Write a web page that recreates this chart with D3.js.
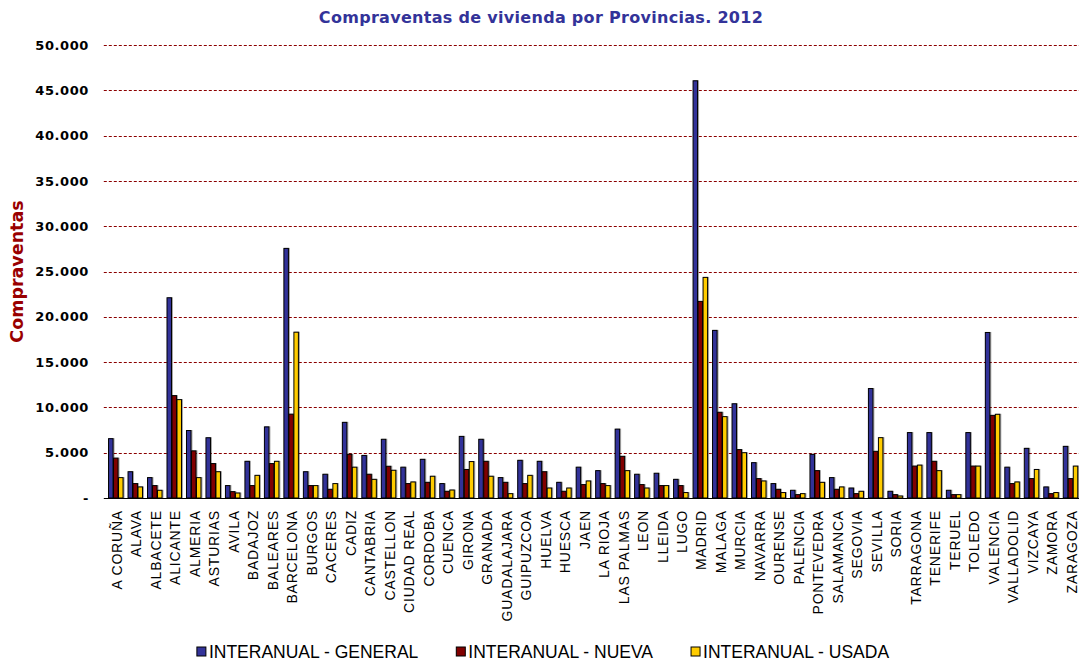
<!DOCTYPE html>
<html>
<head>
<meta charset="utf-8">
<script src="https://cdn.jsdelivr.net/npm/d3@7/dist/d3.min.js"></script>
<style>
  html, body { margin: 0; padding: 0; background: #fff; }
  svg { display: block; }
</style>
</head>
<body>
<svg id="chart" width="1079" height="662"></svg>
<script>
// Provinces (x categories)
const provincias = [
  "A CORUÑA","ALAVA","ALBACETE","ALICANTE","ALMERIA","ASTURIAS","AVILA","BADAJOZ",
  "BALEARES","BARCELONA","BURGOS","CACERES","CADIZ","CANTABRIA","CASTELLON",
  "CIUDAD REAL","CORDOBA","CUENCA","GIRONA","GRANADA","GUADALAJARA","GUIPUZCOA",
  "HUELVA","HUESCA","JAEN","LA RIOJA","LAS PALMAS","LEON","LLEIDA","LUGO","MADRID",
  "MALAGA","MURCIA","NAVARRA","OURENSE","PALENCIA","PONTEVEDRA","SALAMANCA",
  "SEGOVIA","SEVILLA","SORIA","TARRAGONA","TENERIFE","TERUEL","TOLEDO","VALENCIA",
  "VALLADOLID","VIZCAYA","ZAMORA","ZARAGOZA"
];

// Compraventas por tipo de vivienda, 2012
const general = [
  6550, 2900, 2250, 22100, 7450, 6650, 1370, 4050,
  7850, 27550, 2900, 2620, 8350, 4700, 6480,
  3400, 4270, 1590, 6800, 6480, 2250, 4160,
  4050, 1730, 3400, 3020, 7600, 2620, 2730, 2060, 46050,
  18500, 10400, 3900, 1590, 850, 4820, 2250,
  1100, 12080, 740, 7220, 7220, 850, 7220, 18270,
  3400, 5480, 1220, 5700
];
const nueva = [
  4400, 1590, 1370, 11300, 5200, 3800, 700, 1370,
  3800, 9250, 1370, 960, 4820, 2620, 3500,
  1590, 1730, 740, 3150, 4050, 1730, 1590,
  2900, 740, 1480, 1590, 4600, 1480, 1370, 1370, 21700,
  9460, 5340, 2140, 960, 370, 3020, 960,
  480, 5150, 370, 3520, 4050, 370, 3520, 9120,
  1590, 2140, 480, 2140
];
const usada = [
  2250, 1220, 850, 10860, 2250, 2900, 550, 2500,
  4050, 18300, 1370, 1590, 3400, 2060, 3060,
  1770, 2400, 880, 4020, 2400, 480, 2500,
  1100, 1100, 1880, 1370, 3020, 1100, 1370, 600, 24350,
  8980, 5000, 1880, 600, 480, 1730, 1220,
  740, 6660, 220, 3630, 3020, 370, 3520, 9240,
  1770, 3150, 600, 3520
];

const seriesNames = ["INTERANUAL - GENERAL", "INTERANUAL - NUEVA", "INTERANUAL - USADA"];
const seriesColors = ["#333399", "#800000", "#FFCC00"];
const yTicks = [0, 5000, 10000, 15000, 20000, 25000, 30000, 35000, 40000, 45000, 50000];

const seriesValues = [general, nueva, usada];

const svg = d3.select("#chart");
const plot = { left: 105.8, right: 1080, top: 45, bottom: 498 };

const x = d3.scaleBand()
  .domain(provincias)
  .range([plot.left, plot.right])
  .paddingInner(0.23)
  .paddingOuter(0.115);

const xs = d3.scaleBand()
  .domain(d3.range(seriesNames.length))
  .range([0, x.bandwidth()]);

const y = d3.scaleLinear().domain([0, 50000]).range([plot.bottom, plot.top]);

const es = d3.formatLocale({ decimal: ",", thousands: ".", grouping: [3], currency: ["", "€"] });
const fmt = es.format(",.0f");

// Title
svg.append("text")
  .attr("x", 541).attr("y", 23)
  .attr("text-anchor", "middle")
  .style("font-family", "'DejaVu Sans', Verdana, sans-serif")
  .style("font-weight", "bold")
  .style("font-size", "16px")
  .style("letter-spacing", "0.3px")
  .attr("fill", "#333399")
  .text("Compraventas de vivienda por Provincias. 2012");

// Horizontal dashed gridlines
svg.append("g")
  .selectAll("line")
  .data(yTicks.filter(d => d > 0))
  .join("line")
  .attr("x1", plot.left - 2).attr("x2", plot.right)
  .attr("y1", d => Math.round(y(d)) + 0.5).attr("y2", d => Math.round(y(d)) + 0.5)
  .attr("stroke", "#8B0000")
  .attr("stroke-width", 1)
  .attr("stroke-dasharray", "3,2");

// Y axis labels
const yAxis = d3.axisLeft(y)
  .tickValues(yTicks)
  .tickSize(0)
  .tickPadding(0)
  .tickFormat(d => d === 0 ? "-" : fmt(d));

svg.append("g")
  .attr("transform", `translate(89,0)`)
  .call(yAxis)
  .call(g => g.select(".domain").remove())
  .call(g => g.selectAll("text")
    .style("font-family", "'DejaVu Sans', Verdana, sans-serif")
    .style("font-weight", "bold")
    .style("font-size", "13px")
    .style("letter-spacing", "0.6px")
    .attr("fill", "#000"));

// Y axis title
svg.append("text")
  .attr("transform", `translate(23,${(plot.top + plot.bottom) / 2}) rotate(-90)`)
  .attr("text-anchor", "middle")
  .style("font-family", "'DejaVu Sans', Verdana, sans-serif")
  .style("font-weight", "bold")
  .style("font-size", "17.5px")
  .attr("fill", "#990000")
  .text("Compraventas");

// Bars
const defs = svg.append("defs");
const sh = defs.append("filter").attr("id", "soft").attr("x", "-50%").attr("y", "-5%").attr("width", "200%").attr("height", "110%");
sh.append("feDropShadow").attr("dx", 1).attr("dy", 0).attr("stdDeviation", 0.7)
  .attr("flood-color", "#000").attr("flood-opacity", 0.35);

const groups = svg.append("g")
  .selectAll("g")
  .data(provincias)
  .join("g")
  .attr("transform", d => `translate(${x(d)},0)`);

groups.selectAll("rect")
  .data((d, i) => seriesValues.map((vals, s) => ({ s, v: vals[i] })))
  .join("rect")
  .attr("x", d => xs(d.s) + 0.5)
  .attr("width", xs.bandwidth() - 0.5)
  .attr("y", d => y(d.v))
  .attr("height", d => plot.bottom - y(d.v))
  .attr("fill", d => seriesColors[d.s])
  .attr("stroke", "#000")
  .attr("stroke-width", 1)
  .attr("filter", "url(#soft)");

// X axis baseline
svg.append("line")
  .attr("x1", plot.left - 2).attr("x2", plot.right)
  .attr("y1", plot.bottom + 0.5).attr("y2", plot.bottom + 0.5)
  .attr("stroke", "#000")
  .attr("stroke-width", 1);

// Category labels, vertical
const xAxis = d3.axisBottom(x).tickSize(0).tickPadding(0);
svg.append("g")
  .attr("transform", `translate(1.5,${plot.bottom})`)
  .call(xAxis)
  .call(g => g.select(".domain").remove())
  .call(g => g.selectAll("text")
    .attr("transform", "translate(0,12) rotate(-90)")
    .attr("x", 0).attr("y", 0).attr("dy", "0.35em")
    .attr("text-anchor", "end")
    .style("font-family", "'Liberation Sans', Arial, sans-serif")
    .style("font-size", "14px")
    .style("letter-spacing", "0.8px")
    .attr("fill", "#000"));

// Legend
const legend = svg.append("g").attr("transform", "translate(0,658)");
const items = legend.selectAll("g").data(seriesNames).join("g");
items.append("rect")
  .attr("y", -11).attr("width", 9).attr("height", 9)
  .attr("fill", (d, i) => seriesColors[i])
  .attr("stroke", "#000").attr("stroke-width", 1);
items.append("text")
  .attr("x", 12)
  .style("font-family", "'Liberation Sans', Arial, sans-serif")
  .style("font-size", "17.5px")
  .attr("fill", "#000")
  .text(d => d);
const widths = [];
items.each(function () {
  widths.push(12 + d3.select(this).select("text").node().getComputedTextLength());
});
const gap = 38;
const total = d3.sum(widths) + gap * (widths.length - 1);
let cx = 543 - total / 2;
items.attr("transform", (d, i) => {
  const t = `translate(${cx},0)`;
  cx += widths[i] + gap;
  return t;
});
</script>
</body>
</html>
